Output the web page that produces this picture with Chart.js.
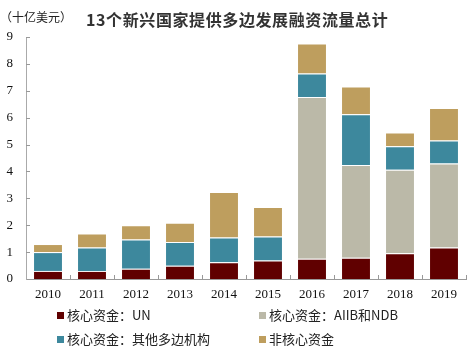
<!DOCTYPE html>
<html>
<head>
<meta charset="utf-8">
<script src="https://cdn.jsdelivr.net/npm/chart.js@4"></script>
<style>
  body { margin: 0; background: #fff; }
  #wrap { position: relative; width: 473px; height: 355px; }
  #unit { position: absolute; left: 0; top: 8px; font: 12px "Noto Sans CJK SC", sans-serif; color: #222; }
  #title { position: absolute; left: 86px; top: 7px; font: bold 16px "Noto Sans CJK SC", sans-serif; color: #333; letter-spacing: 0.6px; }
  .lg { position: absolute; font: 13px "Noto Sans CJK SC", sans-serif; color: #222; white-space: nowrap; line-height: 16px; }
  .lg i { display: inline-block; width: 7px; height: 7px; margin-right: 3px; vertical-align: 1px; }
</style>
</head>
<body>
<div id="wrap">
  <canvas id="myChart"></canvas>
  <div id="unit">（十亿美元）</div>
  <div id="title">13个新兴国家提供多边发展融资流量总计</div>
  <div id="legend"></div>
</div>
<script>
// data (billions USD)
const years = ['2010','2011','2012','2013','2014','2015','2016','2017','2018','2019'];
const coreUN    = [0.30, 0.30, 0.38, 0.49, 0.62, 0.69, 0.75, 0.79, 0.96, 1.17];
const coreAIIB  = [0, 0, 0, 0, 0, 0, 6.02, 3.45, 3.10, 3.13];
const coreOther = [0.70, 0.87, 1.09, 0.89, 0.92, 0.89, 0.87, 1.89, 0.88, 0.85];
const nonCore   = [0.30, 0.52, 0.53, 0.71, 1.70, 1.10, 1.12, 1.03, 0.51, 1.21];
const seriesNames = ['核心资金：UN', '核心资金：AIIB和NDB', '核心资金：其他多边机构', '非核心资金'];
const colors = ['#600000', '#bbb9a8', '#3d889d', '#be9e5e'];

const ctx = document.getElementById('myChart').getContext('2d');
ctx.canvas.width = 473;
ctx.canvas.height = 355;

// short inward tick marks like the original
const innerTicks = {
    id: 'innerTicks',
    afterDatasetsDraw(chart) {
        const c = chart.ctx, x = chart.scales.x, y = chart.scales.y;
        c.save();
        c.strokeStyle = '#999';
        c.lineWidth = 1;
        c.beginPath();
        for (let v = 1; v <= 9; v++) {
            const py = Math.round(y.getPixelForValue(v)) + 0.5;
            c.moveTo(x.left, py); c.lineTo(x.left + 4, py);
        }
        const step = (x.right - x.left) / years.length;
        for (let i = 1; i <= years.length; i++) {
            const px = Math.round(x.left + step * i) + 0.5;
            c.moveTo(px, y.bottom); c.lineTo(px, y.bottom - 4);
        }
        c.stroke();
        c.restore();
    }
};

const data = [coreUN, coreAIIB, coreOther, nonCore];
const chart = new Chart(ctx, {
    type: 'bar',
    data: {
        labels: years,
        datasets: data.map((d, i) => ({
            label: seriesNames[i],
            data: d,
            backgroundColor: colors[i],
            borderColor: 'rgba(255,255,255,0.35)',
            borderWidth: 1,
            categoryPercentage: 1,
            barPercentage: 0.68
        }))
    },
    options: {
        responsive: false,
        animation: false,
        layout: { padding: { top: 37, right: 7, bottom: 48, left: 0 } },
        plugins: { legend: { display: false }, tooltip: { enabled: false } },
        scales: {
            x: {
                stacked: true,
                grid: { display: false, drawTicks: false },
                border: { color: '#999', width: 1 },
                ticks: { color: '#111', font: { family: 'Liberation Serif', size: 13 }, padding: 8 },
                afterFit(s) { s.height = 28; }
            },
            y: {
                stacked: true,
                min: 0,
                max: 9,
                grid: { display: false, drawTicks: false },
                border: { color: '#aaa', width: 1 },
                ticks: { stepSize: 1, color: '#111', font: { family: 'Liberation Serif', size: 13 }, padding: 13 },
                afterFit(s) { s.width = 26; }
            }
        }
    },
    plugins: [innerTicks]
});

// html legend in two columns, built from the chart datasets
const pos = [[57, 307], [259, 307], [57, 331], [259, 331]];
const lg = document.getElementById('legend');
chart.data.datasets.forEach((ds, i) => {
    const el = document.createElement('div');
    el.className = 'lg';
    el.style.left = pos[i][0] + 'px';
    el.style.top = pos[i][1] + 'px';
    el.innerHTML = '<i style="background:' + ds.backgroundColor + '"></i>' + ds.label;
    lg.appendChild(el);
});
</script>
</body>
</html>
